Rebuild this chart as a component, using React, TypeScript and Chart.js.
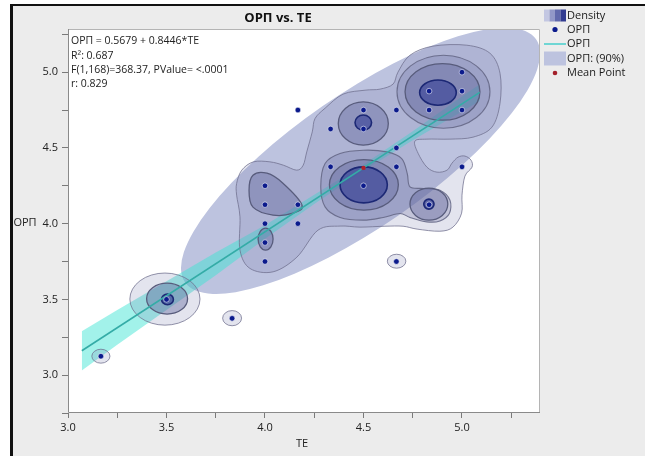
import React, { useEffect, useRef } from 'react';
import { Chart, registerables } from 'chart.js';

Chart.register(...registerables);

const FONT = "'Open Sans', 'DejaVu Sans', sans-serif";

// Axis ticks
const X_TICKS = [3.0, 3.25, 3.5, 3.75, 4.0, 4.25, 4.5, 4.75, 5.0, 5.25];
const Y_TICKS = [2.75, 3.0, 3.25, 3.5, 3.75, 4.0, 4.25, 4.5, 4.75, 5.0, 5.25];

// Observations (TE, ОРП)
const TE = [3.167, 3.5, 3.833, 4.0, 4.0, 4.0, 4.0, 4.0, 4.167, 4.167, 4.167, 4.333, 4.333, 4.5, 4.5, 4.5, 4.667, 4.667, 4.667, 4.667, 4.833, 4.833, 4.833, 5.0, 5.0, 5.0, 5.0];
const ORP = [3.125, 3.5, 3.375, 4.25, 4.125, 4.0, 3.875, 3.75, 4.125, 4.0, 4.75, 4.625, 4.375, 4.75, 4.625, 4.25, 4.75, 4.5, 4.375, 3.75, 4.875, 4.75, 4.125, 5.0, 4.875, 4.75, 4.375];

// Mean point
const MEAN_TE = [4.5];
const MEAN_ORP = [4.368];

// Fitted line
const FIT_TE = [3.07, 5.09];
const FIT_ORP = [3.161, 4.867];

// Confidence band of the fit
const BAND_TE = [3.07, 3.25, 3.5, 3.75, 4.0, 4.25, 4.5, 4.75, 5.0, 5.09];
const BAND_UPPER = [3.29, 3.43, 3.62, 3.81, 3.99, 4.19, 4.39, 4.61, 4.84, 4.92];
const BAND_LOWER = [3.03, 3.2, 3.43, 3.66, 3.9, 4.13, 4.35, 4.55, 4.74, 4.81];

// 90% density ellipse: centre and two conjugate semi-axes (data units)
const ELLIPSE_CENTER = [4.485, 4.415];
const ELLIPSE_MAJOR = [0.891, 0.802];
const ELLIPSE_MINOR = [0.192, -0.361];

// Density contours, level A (outermost) .. D (innermost)
const CONTOUR_A_BLOB = [
  [3.856, 4.265], [3.882, 4.353], [3.941, 4.408], [4.025, 4.408], [4.093, 4.386], [4.161, 4.353],
  [4.194, 4.386], [4.212, 4.474], [4.24, 4.606], [4.254, 4.694], [4.305, 4.762], [4.396, 4.855],
  [4.508, 4.881], [4.584, 4.888], [4.65, 4.921], [4.675, 5.0], [4.736, 5.112], [4.853, 5.172],
  [5.025, 5.178], [5.142, 5.125], [5.193, 4.993], [5.193, 4.795], [5.152, 4.637], [5.056, 4.571],
  [4.939, 4.558], [4.822, 4.558], [4.761, 4.545], [4.777, 4.465], [4.822, 4.373], [4.873, 4.34],
  [4.924, 4.353], [4.949, 4.399], [4.98, 4.439], [5.015, 4.446], [5.046, 4.419], [5.051, 4.373],
  [5.015, 4.314], [5.0, 4.188], [4.998, 4.069], [4.954, 3.977], [4.888, 3.95], [4.772, 3.964],
  [4.701, 3.983], [4.609, 3.983], [4.482, 3.977], [4.381, 3.984], [4.269, 3.957], [4.162, 3.779],
  [4.041, 3.682], [3.924, 3.704], [3.873, 3.825], [3.873, 4.045], [3.856, 4.188],
];
const CONTOUR_A_RINGS = [
  [3.492, 3.502, 0.178, 0.172],
  [3.167, 3.125, 0.046, 0.046],
  [3.833, 3.376, 0.048, 0.05],
  [4.668, 3.752, 0.047, 0.046],
];
const CONTOUR_B_BLOB = [
  [4.499, 4.485], [4.618, 4.474], [4.694, 4.43], [4.722, 4.331], [4.736, 4.243], [4.804, 4.232],
  [4.888, 4.221], [4.939, 4.155], [4.936, 4.067], [4.888, 4.018], [4.821, 4.012], [4.736, 4.041],
  [4.685, 4.067], [4.6, 4.041], [4.499, 4.023], [4.381, 4.041], [4.305, 4.111], [4.283, 4.243],
  [4.305, 4.397], [4.381, 4.463],
];
const CONTOUR_B_RINGS = [
  [4.906, 4.871, 0.236, 0.241],
];
const CONTOUR_C_BLOB = [
  [3.939, 4.32], [4.01, 4.333], [4.091, 4.267], [4.188, 4.122], [4.142, 4.069], [4.041, 4.056],
  [3.939, 4.109], [3.919, 4.221],
];
const CONTOUR_C_RINGS = [
  [4.003, 3.898, 0.038, 0.073],
  [4.502, 4.256, 0.175, 0.167],
  [4.832, 4.129, 0.096, 0.106],
  [4.499, 4.661, 0.127, 0.143],
  [4.901, 4.87, 0.19, 0.187],
  [3.503, 3.505, 0.104, 0.102],
];
const CONTOUR_D_RINGS = [
  [4.501, 4.256, 0.12, 0.119],
  [4.878, 4.865, 0.093, 0.083],
  [4.499, 4.667, 0.042, 0.05],
  [3.505, 3.5, 0.03, 0.035],
  [4.832, 4.129, 0.026, 0.033],
];

const LEVELS = [
  { blobs: [CONTOUR_A_BLOB], rings: CONTOUR_A_RINGS, fill: 'rgba(122,126,176,0.21)', stroke: 'rgba(110,110,140,0.75)', width: 1 },
  { blobs: [CONTOUR_B_BLOB], rings: CONTOUR_B_RINGS, fill: 'rgba(110,115,165,0.28)', stroke: 'rgba(98,100,130,0.85)', width: 1.1 },
  { blobs: [CONTOUR_C_BLOB], rings: CONTOUR_C_RINGS, fill: 'rgba(95,100,155,0.4)', stroke: '#585c7c', width: 1.3 },
  { blobs: [], rings: CONTOUR_D_RINGS, fill: 'rgba(55,65,150,0.62)', stroke: '#1c2875', width: 1.6 },
];

function smoothClosed(ctx: CanvasRenderingContext2D, pts: { x: number; y: number }[]) {
  const n = pts.length;
  ctx.moveTo(pts[0].x, pts[0].y);
  for (let i = 0; i < n; i++) {
    const p0 = pts[(i - 1 + n) % n];
    const p1 = pts[i];
    const p2 = pts[(i + 1) % n];
    const p3 = pts[(i + 2) % n];
    const t = 1 / 6;
    ctx.bezierCurveTo(
      p1.x + (p2.x - p0.x) * t, p1.y + (p2.y - p0.y) * t,
      p2.x - (p3.x - p1.x) * t, p2.y - (p3.y - p1.y) * t,
      p2.x, p2.y
    );
  }
  ctx.closePath();
}

const shapesPlugin = {
  id: 'shapes',
  beforeDraw(chart: any) {
    const { ctx, chartArea: a } = chart;
    ctx.save();
    ctx.fillStyle = '#ffffff';
    ctx.fillRect(a.left, a.top, a.right - a.left, a.bottom - a.top);
    ctx.restore();
  },
  beforeDatasetsDraw(chart: any) {
    const { ctx, chartArea: a, scales } = chart;
    const xs = scales.x, ys = scales.y;
    ctx.save();
    ctx.beginPath();
    ctx.rect(a.left, a.top, a.right - a.left, a.bottom - a.top);
    ctx.clip();
    const c = { x: xs.getPixelForValue(ELLIPSE_CENTER[0]), y: ys.getPixelForValue(ELLIPSE_CENTER[1]) };
    const pa = {
      x: xs.getPixelForValue(ELLIPSE_CENTER[0] + ELLIPSE_MAJOR[0]) - c.x,
      y: ys.getPixelForValue(ELLIPSE_CENTER[1] + ELLIPSE_MAJOR[1]) - c.y,
    };
    const pb = {
      x: xs.getPixelForValue(ELLIPSE_CENTER[0] + ELLIPSE_MINOR[0]) - c.x,
      y: ys.getPixelForValue(ELLIPSE_CENTER[1] + ELLIPSE_MINOR[1]) - c.y,
    };
    ctx.beginPath();
    ctx.save();
    ctx.transform(pa.x, pa.y, pb.x, pb.y, c.x, c.y);
    ctx.arc(0, 0, 1, 0, Math.PI * 2);
    ctx.restore();
    ctx.fillStyle = '#bdc3df';
    ctx.fill();
    ctx.restore();
  },
  afterDatasetDraw(chart: any, args: any) {
    if (args.index !== 1) return;
    const { ctx, chartArea: a, scales } = chart;
    const xs = scales.x, ys = scales.y;
    ctx.save();
    ctx.beginPath();
    ctx.rect(a.left, a.top, a.right - a.left, a.bottom - a.top);
    ctx.clip();
    for (const lv of LEVELS) {
      ctx.fillStyle = lv.fill;
      ctx.strokeStyle = lv.stroke;
      ctx.lineWidth = lv.width;
      for (const blob of lv.blobs) {
        const pts = blob.map((p) => ({ x: xs.getPixelForValue(p[0]), y: ys.getPixelForValue(p[1]) }));
        ctx.beginPath();
        smoothClosed(ctx, pts);
        ctx.fill();
        ctx.stroke();
      }
      for (const r of lv.rings) {
        const cx = xs.getPixelForValue(r[0]);
        const cy = ys.getPixelForValue(r[1]);
        const rx = Math.abs(xs.getPixelForValue(r[0] + r[2]) - cx);
        const ry = Math.abs(ys.getPixelForValue(r[1] + r[3]) - cy);
        ctx.beginPath();
        ctx.ellipse(cx, cy, rx, ry, 0, 0, Math.PI * 2);
        ctx.fill();
        ctx.stroke();
      }
    }
    ctx.restore();
  },
  afterDraw(chart: any) {
    const { ctx, chartArea: a } = chart;
    ctx.save();
    // plot frame
    ctx.lineWidth = 1;
    ctx.strokeStyle = '#b4b4b4';
    ctx.beginPath();
    ctx.moveTo(a.left, a.top + 0.5);
    ctx.lineTo(a.right - 0.5, a.top + 0.5);
    ctx.lineTo(a.right - 0.5, a.bottom);
    ctx.stroke();
    ctx.strokeStyle = '#8a8a8a';
    ctx.beginPath();
    ctx.moveTo(a.left + 0.5, a.top);
    ctx.lineTo(a.left + 0.5, a.bottom - 0.5);
    ctx.lineTo(a.right, a.bottom - 0.5);
    ctx.stroke();

    // title
    ctx.fillStyle = '#111';
    ctx.textBaseline = 'middle';
    ctx.textAlign = 'center';
    ctx.font = `bold 13px ${FONT}`;
    ctx.fillText('ОРП vs. TE', 278, 18);

    // axis titles
    ctx.font = `11px ${FONT}`;
    ctx.fillStyle = '#222';
    ctx.fillText('TE', 302, 444);
    ctx.fillText('ОРП', 25, 223);

    // fit statistics
    ctx.textAlign = 'left';
    ctx.font = `10.5px ${FONT}`;
    ctx.fillStyle = '#222';
    const stats = ['ОРП = 0.5679 + 0.8446*TE', 'R²: 0.687', 'F(1,168)=368.37, PValue= <.0001', 'r: 0.829'];
    const sy = [41.5, 56, 70, 84];
    stats.forEach((s, i) => ctx.fillText(s, 71, sy[i]));

    // legend
    const lx = 567;
    const ly = [15.5, 29.5, 44, 58.5, 73];
    const shades = ['#c3c7e2', '#9298c8', '#6169ac', '#323c90'];
    shades.forEach((col, i) => {
      ctx.fillStyle = col;
      ctx.fillRect(544 + i * 5.5, ly[0] - 6, 5.5, 12);
    });
    ctx.fillStyle = '#0b1a8c';
    ctx.beginPath();
    ctx.arc(555, ly[1], 2.6, 0, Math.PI * 2);
    ctx.fill();
    ctx.strokeStyle = '#6fd6d4';
    ctx.lineWidth = 2;
    ctx.beginPath();
    ctx.moveTo(544, ly[2]);
    ctx.lineTo(566, ly[2]);
    ctx.stroke();
    ctx.fillStyle = '#bdc3df';
    ctx.fillRect(544, ly[3] - 7, 22, 14);
    ctx.fillStyle = '#a3202a';
    ctx.beginPath();
    ctx.arc(555, ly[4], 2.3, 0, Math.PI * 2);
    ctx.fill();
    ctx.fillStyle = '#1a1a1a';
    ctx.font = `11px ${FONT}`;
    const labels = ['Density', 'ОРП', 'ОРП', 'ОРП: (90%)', 'Mean Point'];
    labels.forEach((t, i) => ctx.fillText(t, lx, ly[i]));
    ctx.restore();
  },
};

const halfLabel = (v: any) => {
  const n = Number(v);
  return Math.abs(n * 2 - Math.round(n * 2)) < 1e-6 ? n.toFixed(1) : '';
};

export default function App() {
  const ref = useRef<HTMLCanvasElement | null>(null);
  useEffect(() => {
    if (!ref.current) return;
    const chart = new Chart(ref.current, {
      type: 'line',
      data: {
        datasets: [
          {
            label: 'band upper',
            data: BAND_TE.map((x, i) => ({ x, y: BAND_UPPER[i] })),
            borderColor: 'rgba(0,0,0,0)',
            borderWidth: 0,
            pointRadius: 0,
            fill: false,
            order: 5,
          },
          {
            label: 'band lower',
            data: BAND_TE.map((x, i) => ({ x, y: BAND_LOWER[i] })),
            borderColor: 'rgba(0,0,0,0)',
            borderWidth: 0,
            pointRadius: 0,
            fill: '-1',
            backgroundColor: 'rgba(60,228,212,0.48)',
            order: 4,
          },
          {
            label: 'fit',
            data: FIT_TE.map((x, i) => ({ x, y: FIT_ORP[i] })),
            borderColor: '#34aca7',
            borderWidth: 1.6,
            pointRadius: 0,
            fill: false,
            order: 2,
          },
          {
            label: 'ОРП',
            data: TE.map((x, i) => ({ x, y: ORP[i] })),
            showLine: false,
            pointRadius: 2.8,
            pointBackgroundColor: '#0b1a8c',
            pointBorderColor: 'rgba(255,255,255,0.7)',
            pointBorderWidth: 0.8,
            order: 1,
          },
          {
            label: 'Mean Point',
            data: MEAN_TE.map((x, i) => ({ x, y: MEAN_ORP[i] })),
            showLine: false,
            pointRadius: 2.2,
            pointBackgroundColor: '#b3202a',
            pointBorderWidth: 0,
            order: 0,
          },
        ],
      },
      options: {
        animation: false,
        responsive: false,
        devicePixelRatio: 1,
        layout: { padding: { left: 0, top: 29, right: 105, bottom: 0 } },
        plugins: { legend: { display: false }, title: { display: false }, tooltip: { enabled: false } },
        scales: {
          x: {
            type: 'linear',
            min: 3.0,
            max: 5.396,
            afterBuildTicks: (s: any) => { s.ticks = X_TICKS.map((v) => ({ value: v })); },
            afterFit: (s: any) => { s.height = 43; },
            ticks: { autoSkip: false, maxRotation: 0, padding: 3, color: '#222', font: { family: FONT, size: 11 }, callback: halfLabel },
            grid: { drawOnChartArea: false, drawTicks: true, tickLength: 5, color: '#7a7a7a' },
            border: { display: false },
          },
          y: {
            type: 'linear',
            min: 2.75,
            max: 5.285,
            afterBuildTicks: (s: any) => { s.ticks = Y_TICKS.map((v) => ({ value: v })); },
            afterFit: (s: any) => { s.width = 68; },
            ticks: { autoSkip: false, padding: 4, color: '#222', font: { family: FONT, size: 11 }, callback: halfLabel },
            grid: { drawOnChartArea: false, drawTicks: true, tickLength: 6, color: '#7a7a7a' },
            border: { display: false },
          },
        },
      } as any,
      plugins: [shapesPlugin as any],
    });
    return () => chart.destroy();
  }, []);

  return (
    <div style={{ position: 'relative', width: 645, height: 456, background: '#ffffff', overflow: 'hidden' }}>
      <style>{'body{margin:0}'}</style>
      <div
        style={{
          position: 'absolute',
          left: 10,
          top: 4,
          right: 0,
          bottom: 0,
          background: '#ececec',
          borderLeft: '3px solid #111',
          borderTop: '2px solid #111',
        }}
      />
      <canvas ref={ref} width={645} height={456} style={{ position: 'absolute', left: 0, top: 0, width: 645, height: 456 }} />
    </div>
  );
}
